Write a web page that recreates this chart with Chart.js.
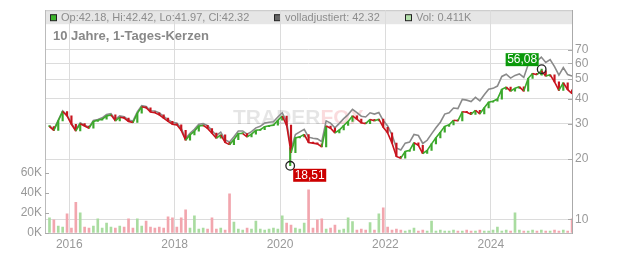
<!DOCTYPE html>
<html>
<head>
<meta charset="utf-8">
<title>10 Jahre, 1-Tages-Kerzen</title>
<script src="https://cdn.jsdelivr.net/npm/chart.js@4.4.1/dist/chart.umd.min.js"></script>
<style>
  html, body { margin: 0; padding: 0; background: #fff; }
  #chart { display: block; }
</style>
</head>
<body>
<canvas id="chart" width="632" height="253"></canvas>
<script>
// monthly values, Aug 2015 - Jul 2025
const months = [
    "2015-08", "2015-09", "2015-10", "2015-11", "2015-12",
    "2016-01", "2016-02", "2016-03", "2016-04", "2016-05", "2016-06", "2016-07", "2016-08", "2016-09", "2016-10", "2016-11", "2016-12",
    "2017-01", "2017-02", "2017-03", "2017-04", "2017-05", "2017-06", "2017-07", "2017-08", "2017-09", "2017-10", "2017-11", "2017-12",
    "2018-01", "2018-02", "2018-03", "2018-04", "2018-05", "2018-06", "2018-07", "2018-08", "2018-09", "2018-10", "2018-11", "2018-12",
    "2019-01", "2019-02", "2019-03", "2019-04", "2019-05", "2019-06", "2019-07", "2019-08", "2019-09", "2019-10", "2019-11", "2019-12",
    "2020-01", "2020-02", "2020-03", "2020-04", "2020-05", "2020-06", "2020-07", "2020-08", "2020-09", "2020-10", "2020-11", "2020-12",
    "2021-01", "2021-02", "2021-03", "2021-04", "2021-05", "2021-06", "2021-07", "2021-08", "2021-09", "2021-10", "2021-11", "2021-12",
    "2022-01", "2022-02", "2022-03", "2022-04", "2022-05", "2022-06", "2022-07", "2022-08", "2022-09", "2022-10", "2022-11", "2022-12",
    "2023-01", "2023-02", "2023-03", "2023-04", "2023-05", "2023-06", "2023-07", "2023-08", "2023-09", "2023-10", "2023-11", "2023-12",
    "2024-01", "2024-02", "2024-03", "2024-04", "2024-05", "2024-06", "2024-07", "2024-08", "2024-09", "2024-10", "2024-11", "2024-12",
    "2025-01", "2025-02", "2025-03", "2025-04", "2025-05", "2025-06", "2025-07"
];

const closes = [
    29.0, 27.8, 31.0, 34.5, 32.8,
    29.8, 27.6, 30.0, 29.2, 28.5, 30.8, 31.2, 31.6, 32.8, 33.2, 31.0, 32.3,
    32.0, 30.8, 30.4, 33.8, 36.4, 36.0, 34.3, 34.0, 33.2, 32.0, 30.8, 29.8,
    29.6, 27.8, 24.8, 26.4, 27.5, 29.2, 29.4, 28.4, 26.9, 25.4, 26.4, 24.2,
    23.6, 25.0, 26.8, 26.8, 25.8, 26.6, 27.8, 28.0, 29.0, 29.3, 29.5, 31.2,
    32.7, 29.5, 21.5, 25.5, 25.8, 26.5, 24.2, 24.0, 23.8, 23.0, 29.2, 28.5,
    27.0, 27.9, 29.4, 30.8, 32.8, 31.6, 30.3, 30.0, 31.5, 31.0, 31.6, 28.8,
    27.0, 24.0, 20.6, 20.2, 21.8, 22.1, 24.1, 23.4, 21.3, 22.1, 23.8, 25.5,
    27.2, 29.1, 29.6, 31.2, 31.0, 34.4, 34.2, 33.4, 35.0, 33.6, 36.0, 38.4,
    38.8, 39.8, 44.5, 45.6, 43.6, 45.0, 45.8, 43.6, 50.5, 53.4, 52.6, 55.0,
    51.8, 52.6, 48.5, 44.0, 48.0, 44.3, 42.3
];

const adjusted = [
    29.3, 28.1, 31.3, 34.8, 33.1,
    30.1, 27.9, 30.3, 29.5, 28.8, 31.1, 31.5, 32.1, 33.3, 33.7, 31.5, 32.8,
    32.5, 31.3, 30.9, 34.3, 36.9, 36.5, 34.8, 34.7, 33.9, 32.6, 31.4, 30.4,
    30.2, 28.4, 25.3, 26.9, 28.1, 29.8, 30.0, 29.3, 27.7, 26.2, 27.2, 24.9,
    24.3, 25.8, 27.6, 27.6, 26.6, 27.4, 28.6, 29.1, 30.2, 30.5, 30.7, 32.4,
    34.0, 30.7, 22.4, 26.5, 27.3, 28.1, 25.7, 25.4, 25.2, 24.4, 31.0, 30.2,
    28.6, 30.1, 31.8, 33.3, 35.4, 34.1, 32.7, 32.4, 34.0, 33.5, 34.1, 31.1,
    29.2, 26.4, 22.7, 22.2, 24.0, 24.3, 26.5, 26.2, 23.9, 24.8, 26.7, 28.6,
    30.5, 33.5, 34.0, 35.9, 35.7, 39.6, 39.3, 38.7, 40.6, 39.0, 41.8, 44.5,
    45.0, 46.2, 51.6, 52.9, 50.6, 52.2, 53.1, 51.0, 59.1, 62.5, 61.5, 64.4,
    60.6, 62.6, 57.7, 52.4, 57.1, 52.7, 51.8
];

// volume in thousands
const volumeK = [
    15, 13, 7, 6, 19,
    5, 30.5, 20, 6, 5, 7, 14, 5, 10, 6, 5, 7,
    6, 14, 5, 14, 7, 12, 6, 5, 6, 5, 16, 15,
    6, 15, 23, 5, 17, 4, 5, 4, 15, 4, 5, 3,
    39, 11, 4, 3, 5, 4, 12, 4, 3, 4, 5, 4,
    17, 10, 8, 5, 4, 10, 43, 5, 13, 14, 4, 5,
    8, 3, 4, 15, 11.5, 3, 4, 3, 10.5, 3, 19, 25,
    6, 3, 4, 3, 2, 3, 5, 2, 3, 2, 12, 2,
    3, 2, 2, 3, 2, 2, 3, 2, 2, 3, 2, 2,
    3, 6, 2, 3, 2, 20, 3, 2, 2, 3, 2, 3,
    2, 2, 3, 2, 3, 2, 14
];

const yearTicks = [2016, 2018, 2020, 2022, 2024];
const priceTicks = [10, 20, 30, 40, 50, 60, 70];
const volumeTicks = [0, 20, 40, 60];

// extreme points with their marker labels
const lowMark = { date: "2020-03-10", value: 18.51, other: 22.8 };
const highMark = { date: "2024-12-18", value: 56.08, other: 52.4 };

const headerOhlc = "Op:42.18, Hi:42.42, Lo:41.97, Cl:42.32";
const headerAdj = "volladjustiert: 42.32";
const headerVol = "Vol: 0.411K";
const subtitle = "10 Jahre, 1-Tages-Kerzen";

const GREEN = "#3ca82c";
const RED = "#c8141e";
const FONT = "'Liberation Sans', Arial, sans-serif";

function toYear(d) {
    const [y, m, day] = d.split("-").map(Number);
    return y + (m - 1 + (day ? (day - 0.5) / 30.5 : 0.5)) / 12;
}

const xs = months.map(toYear);
const isUp = closes.map((c, i) => i === 0 || c >= closes[i - 1]);

/* ==========================
   DECORATIONS
========================== */
const decorations = {
    id: "decorations",
    beforeDraw(chart) {
        const { ctx, chartArea: a } = chart;
        ctx.save();
        ctx.fillStyle = "#e6e6e6";
        ctx.fillRect(a.left, a.top, a.right - a.left, 14);
        ctx.strokeStyle = "#c8c8c8";
        ctx.lineWidth = 1;
        ctx.beginPath();
        ctx.moveTo(a.left, a.top + 0.5);
        ctx.lineTo(a.right, a.top + 0.5);
        ctx.stroke();

        const items = [
            { dx: 5, fill: "#3cb52c", text: headerOhlc },
            { dx: 229, fill: "#666", text: headerAdj },
            { dx: 360, fill: "#b3e0ab", text: headerVol }
        ];
        ctx.font = "11px " + FONT;
        ctx.textBaseline = "middle";
        items.forEach(it => {
            const sx = a.left + it.dx;
            ctx.fillStyle = it.fill;
            ctx.fillRect(sx + 0.5, a.top + 4.5, 6, 6);
            ctx.strokeStyle = "#222";
            ctx.strokeRect(sx + 0.5, a.top + 4.5, 6, 6);
            ctx.fillStyle = "#8c8c8c";
            ctx.fillText(it.text, sx + 11, a.top + 8);
        });

        ctx.font = "bold 13px " + FONT;
        ctx.fillStyle = "#888";
        ctx.fillText(subtitle, a.left + 8, a.top + 26);
        ctx.restore();
    },
    beforeDatasetsDraw(chart) {
        const { ctx } = chart;
        ctx.save();
        ctx.font = "bold 21px " + FONT;
        ctx.textBaseline = "alphabetic";
        ctx.fillStyle = "rgba(0,0,0,0.1)";
        ctx.fillText("TRADER", 233, 124);
        const w = ctx.measureText("TRADER").width;
        ctx.fillStyle = "rgba(225,30,45,0.16)";
        ctx.fillText("FOX", 233 + w, 124);
        ctx.restore();
    },
    afterDatasetsDraw(chart) {
        const { ctx, chartArea: a, scales } = chart;
        ctx.save();
        // small inner tick marks
        ctx.strokeStyle = "#aaa";
        ctx.lineWidth = 1;
        volumeTicks.forEach(v => {
            const py = Math.round(scales.yVol.getPixelForValue(v)) + 0.5;
            ctx.beginPath(); ctx.moveTo(a.left, py); ctx.lineTo(a.left + 4, py); ctx.stroke();
        });
        priceTicks.forEach(v => {
            const py = Math.round(scales.y.getPixelForValue(v)) + 0.5;
            ctx.beginPath(); ctx.moveTo(a.right - 4, py); ctx.lineTo(a.right, py); ctx.stroke();
        });

        // low / high markers
        ctx.font = "12px " + FONT;
        ctx.textBaseline = "middle";
        ctx.textAlign = "center";
        [[highMark, "#0a990a", -1], [lowMark, "#cc0000", 1]].forEach(([m, col, dir]) => {
            const cx = scales.x.getPixelForValue(toYear(m.date));
            const cy = scales.y.getPixelForValue(m.value);
            ctx.beginPath();
            ctx.arc(cx, cy, 4.3, 0, Math.PI * 2);
            ctx.strokeStyle = "#222";
            ctx.lineWidth = 1.3;
            ctx.stroke();

            const label = m.value.toFixed(2).replace(".", ",");
            const w = ctx.measureText(label).width + 3;
            const h = 13;
            const bx = dir < 0 ? cx - 3 - w : cx + 3;
            const by = dir < 0 ? cy - 3 - h : cy + 3;
            ctx.fillStyle = col;
            ctx.fillRect(bx, by, w, h);
            ctx.fillStyle = "#fff";
            ctx.fillText(label, bx + w / 2, by + h / 2 + 0.5);
        });
        ctx.restore();
    }
};

/* ==========================
   CHART
========================== */
const tickFont = { family: FONT, size: 12 };

new Chart(document.getElementById("chart").getContext("2d"), {
    type: "bar",
    data: {
        datasets: [
            {
                type: "line",
                label: "Kurs",
                data: xs.map((x, i) => ({ x, y: closes[i] })),
                yAxisID: "y",
                borderWidth: 1.6,
                pointRadius: 0,
                segment: { borderColor: c => c.p1.parsed.y >= c.p0.parsed.y ? GREEN : RED },
                order: 1
            },
            {
                label: "Kerzen",
                data: xs.map((x, i) => ({ x, y: [i ? closes[i - 1] : closes[0], closes[i]] })),
                yAxisID: "y",
                backgroundColor: isUp.map(u => u ? GREEN : RED),
                barThickness: 1.5,
                minBarLength: 1,
                grouped: false,
                order: 2
            },
            {
                label: "Extrem",
                data: [lowMark, highMark].map(m => ({ x: toYear(m.date), y: [m.value, m.other] })),
                yAxisID: "y",
                backgroundColor: GREEN,
                barThickness: 1.5,
                grouped: false,
                order: 2
            },
            {
                type: "line",
                label: "volladjustiert",
                data: xs.map((x, i) => ({ x, y: adjusted[i] })),
                yAxisID: "y",
                borderColor: "#8a8a8a",
                borderWidth: 1.6,
                pointRadius: 0,
                order: 3
            },
            {
                label: "Vol",
                data: xs.map((x, i) => ({ x, y: volumeK[i] })),
                yAxisID: "yVol",
                backgroundColor: isUp.map(u => u ? "#a9dca0" : "#f2a6ae"),
                barThickness: 2,
                grouped: false,
                order: 4
            }
        ]
    },
    options: {
        responsive: false,
        devicePixelRatio: 1,
        animation: false,
        events: [],
        layout: { padding: { top: 8, left: 0, right: 0, bottom: 0 } },
        plugins: { legend: { display: false }, tooltip: { enabled: false } },
        scales: {
            x: {
                type: "linear",
                min: 2015.54,
                max: 2025.54,
                offset: false,
                grid: { color: "#dcdcdc", drawTicks: false, offset: false },
                border: { color: "#bbb" },
                ticks: { color: "#999", font: tickFont, padding: 4, autoSkip: false, callback: v => String(v) },
                afterBuildTicks: axis => { axis.ticks = yearTicks.map(v => ({ value: v })); },
                afterFit: axis => { axis.height = 20; }
            },
            y: {
                type: "logarithmic",
                position: "right",
                min: 8.56,
                max: 110.3,
                grid: { color: "#dcdcdc", drawTicks: false },
                border: { color: "#aaa" },
                ticks: { color: "#999", font: tickFont, padding: 3, autoSkip: false, callback: v => String(v) },
                afterBuildTicks: axis => { axis.ticks = priceTicks.map(v => ({ value: v })); },
                afterFit: axis => { axis.width = 60; }
            },
            yVol: {
                type: "linear",
                position: "left",
                min: 0,
                max: 222,
                grid: { drawOnChartArea: false, drawTicks: false },
                border: { color: "#bbb" },
                ticks: { color: "#999", font: tickFont, padding: 3, autoSkip: false, callback: v => v + "K" },
                afterBuildTicks: axis => { axis.ticks = volumeTicks.map(v => ({ value: v })); },
                afterFit: axis => { axis.width = 45; }
            }
        }
    },
    plugins: [decorations]
});
</script>
</body>
</html>
